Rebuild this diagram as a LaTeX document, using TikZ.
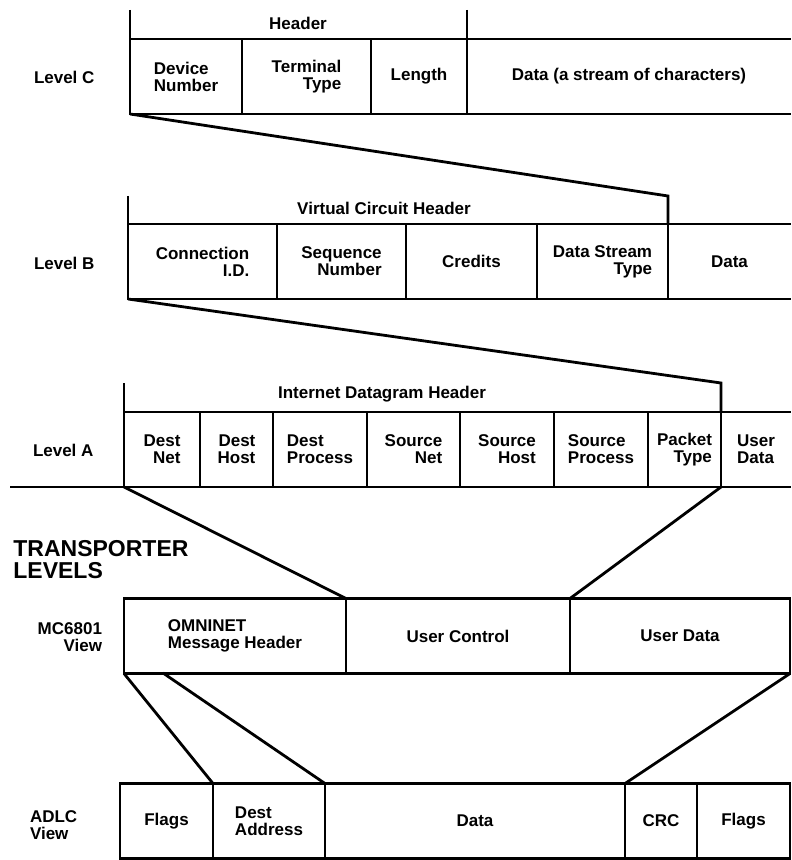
\documentclass[tikz,border=0pt]{standalone}
\usepackage{fontspec}
\setmainfont{Liberation Sans}
\begin{document}
\begin{tikzpicture}[x=0.5pt,y=-0.5pt,line width=1.4pt,
    txt/.style={font=\fontsize{8.5}{8.5}\selectfont\bfseries,inner sep=0pt,outer sep=0pt},
    cell/.style={txt,draw,anchor=west,minimum height=37.5pt},
    opencell/.style={txt,anchor=west,minimum height=37.5pt}]
    \useasboundingbox (0,0) rectangle (791,860);
    % level C
    \foreach \nm/\xa/\xb/\al/\txt in {cC1/130/242/left/{Device\\Number},
        cC2/242/371/right/{Terminal\\Type},cC3/371/467/center/Length}
        \node[cell,align=\al,minimum width={(\xb-\xa)*0.5pt}] (\nm) at (\xa,76.5) {\txt};
    \node[opencell,minimum width=162pt] (cC4) at (467,76.5) {Data (a stream of characters)};
    \draw (cC4.north west) -- (cC4.north east) (cC4.south west) -- (cC4.south east);
    \coordinate (hC) at (130,10);
    \coordinate (vC) at (467,10);
    \draw (hC) -- (cC1.north west);
    \draw (vC) -- (cC3.north east);
    \node[txt] (hdrC) at (298,23) {Header};
    \node[txt,anchor=west] (lvC) at (34,77) {Level C};
    % level B
    \foreach \nm/\xa/\xb/\al/\txt in {cB1/128/277/right/{Connection\\I.D.},
        cB2/277/406/right/{Sequence\\Number},cB3/406/537/center/Credits,
        cB4/537/668/right/{Data Stream\\Type}}
        \node[cell,align=\al,minimum width={(\xb-\xa)*0.5pt}] (\nm) at (\xa,261.5) {\txt};
    \node[opencell,minimum width=61.5pt] (cB5) at (668,261.5) {Data};
    \draw (cB5.north west) -- (cB5.north east) (cB5.south west) -- (cB5.south east);
    \coordinate (hB) at (128,196);
    \coordinate (vB) at (668,196);
    \draw (hB) -- (cB1.north west);
    \draw (cC1.south west) -- (vB) -- (cB4.north east);
    \node[txt] (hdrB) at (384,208) {Virtual Circuit Header};
    \node[txt,anchor=west] (lvB) at (34,263) {Level B};
    % level A
    \foreach \nm/\xa/\xb/\al/\txt in {cA1/124/200/right/{Dest\\Net},
        cA2/200/273/right/{Dest\\Host},cA3/273/367/left/{Dest\\Process},
        cA4/367/460/right/{Source\\Net},cA5/460/554/right/{Source\\Host},
        cA6/554/648/left/{Source\\Process},cA7/648/721/right/{Packet\\Type}}
        \node[cell,align=\al,minimum width={(\xb-\xa)*0.5pt}] (\nm) at (\xa,449.5) {\txt};
    \node[opencell,align=left,minimum width=35pt] (cA8) at (721,449.5) {User\\Data};
    \draw (cA8.north west) -- (cA8.north east) (cA8.south west) -- (cA8.south east);
    \coordinate (hA) at (124,383);
    \coordinate (vA) at (721,383);
    \coordinate (aL) at (10,487);
    \draw (hA) -- (cA1.north west);
    \draw (cB1.south west) -- (vA) -- (cA7.north east);
    \draw (aL) -- (cA1.south west);
    \node[txt] (hdrA) at (382,394) {Internet Datagram Header};
    \node[txt,anchor=west] (lvA) at (33,450) {Level A};
    \node[font=\fontsize{11.5}{11}\selectfont\bfseries,inner sep=0pt,align=left,anchor=west]
        (tl) at (12,560) {TRANSPORTER\\LEVELS};
    % MC6801 view
    \foreach \nm/\xa/\xb/\al/\txt in {m1/124/346/left/{OMNINET\\Message Header},
        m2/346/570/center/User Control,m3/570/790/center/User Data}
        \node[cell,align=\al,minimum width={(\xb-\xa)*0.5pt}] (\nm) at (\xa,636) {\txt};
    \node[txt,align=right,anchor=east] (lvM) at (102,637) {MC6801\\View};
    \draw (cA1.south west) -- (m1.north east);
    \draw (cA7.south east) -- (m2.north east);
    % ADLC view
    \foreach \nm/\xa/\xb/\al/\txt in {d1/120/213/center/Flags,
        d2/213/325/left/{Dest\\Address},d3/325/625/center/Data,
        d4/625/697/center/CRC,d5/697/790/center/Flags}
        \node[cell,align=\al,minimum width={(\xb-\xa)*0.5pt}] (\nm) at (\xa,821) {\txt};
    \node[txt,align=left,anchor=west] (lvD) at (30,825) {ADLC\\View};
    \coordinate (mq) at (163,673);
    \draw (m1.south west) -- (d1.north east);
    \draw (mq) -- (d2.north east);
    \draw (m3.south east) -- (d4.north west);
\end{tikzpicture}
\end{document}
